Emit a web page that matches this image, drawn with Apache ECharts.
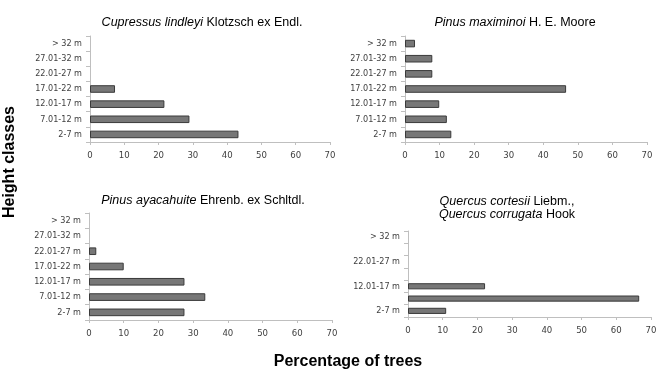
<!DOCTYPE html>
<html><head><meta charset="utf-8">
<script src="https://cdn.jsdelivr.net/npm/echarts@6/dist/echarts.min.js"></script>
<style>html,body{margin:0;padding:0;background:#fff}#c{width:662px;height:379px}</style>
</head><body><div id="c"></div>
<script>
const categories = ['2-7 m','7.01-12 m','12.01-17 m','17.01-22 m','22.01-27 m','27.01-32 m','> 32 m'];
const cupressus = [43.3, 29, 21.7, 7.3, 0, 0, 0];
const maximinoi = [13.4, 12.1, 9.9, 46.6, 7.9, 7.9, 2.9];
const ayacahuite = [27.5, 33.5, 27.5, 10, 2.1, 0, 0];
const quercus = [11, 66.6, 22.2, 0, 0, 0, 0];
const xTicks = {min: 0, max: 70, interval: 10};

const labelFont = "'Liberation Sans Narrow','DejaVu Sans Condensed','Arial Narrow',sans-serif";
const titleFont = "'Liberation Sans',Arial,sans-serif";
const grids = [
  {left: 90, top: 36, width: 240, height: 106},
  {left: 405, top: 36, width: 242, height: 106},
  {left: 89, top: 213, width: 243, height: 107},
  {left: 408, top: 231, width: 243, height: 86}
];
const seriesData = [cupressus, maximinoi, ayacahuite, quercus];
const axisColor = '#bfbfbf';
const textColor = '#404040';

const xAxes = grids.map((g, i) => ({
  type: 'value', gridIndex: i, min: xTicks.min, max: xTicks.max, interval: xTicks.interval,
  splitLine: {show: false},
  axisLine: {show: true, lineStyle: {color: axisColor}},
  axisTick: {show: true, length: 3, lineStyle: {color: axisColor}},
  axisLabel: {color: textColor, fontFamily: labelFont, fontSize: 9.5, margin: 9}
}));
const yAxes = grids.map((g, i) => ({
  type: 'category', gridIndex: i, data: categories,
  axisLine: {show: true, lineStyle: {color: axisColor}},
  axisTick: {show: true, length: 4, interval: 0, lineStyle: {color: axisColor}},
  axisLabel: {color: textColor, fontFamily: labelFont, fontSize: 9, margin: 8, interval: i === 3 ? 1 : 0}
}));
const series = seriesData.map((d, i) => ({
  type: 'bar', xAxisIndex: i, yAxisIndex: i, data: d.map(v => v === 0 ? '-' : v), barWidth: '50%',
  itemStyle: {color: '#777777', borderColor: '#3a3a3a', borderWidth: 1},
  silent: true, animation: false
}));
const rich = {i: {fontStyle: 'italic', fontWeight: 'normal', fontFamily: titleFont, fontSize: 12.5, color: '#000'},
              n: {fontWeight: 'normal', fontFamily: titleFont, fontSize: 12.5, color: '#000'}};
const titles = [
  {text: '{i|Cupressus lindleyi} {n|Klotzsch ex Endl.}', left: 197, top: 11},
  {text: '{i|Pinus maximinoi} {n|H. E. Moore}', left: 510, top: 11},
  {text: '{i|Pinus ayacahuite} {n|Ehrenb. ex Schltdl.}', left: 198, top: 189},
  {text: '{i|Quercus cortesii} {n|Liebm.,}\n{i|Quercus corrugata} {n|Hook}', left: 502, top: 190}
].map(t => ({text: t.text, left: t.left, top: t.top, textAlign: 'center',
  textStyle: {rich: rich, lineHeight: 13, fontSize: 12.5, fontWeight: 'normal'}}));
titles.push({text: 'Percentage of trees', left: 343, top: 349, textAlign: 'center',
  textStyle: {fontFamily: titleFont, fontSize: 16, fontWeight: 'bold', color: '#000'}});

const chart = echarts.init(document.getElementById('c'), null, {renderer: 'canvas'});
chart.setOption({
  animation: false,
  title: titles,
  grid: grids,
  xAxis: xAxes,
  yAxis: yAxes,
  series: series,
  graphic: [{type: 'text', left: 2, top: 106, rotation: Math.PI/2, 
    style: {text: 'Height classes', font: "bold 16px 'Liberation Sans', Arial, sans-serif", fill: '#000'}}]
});
</script></body></html>
